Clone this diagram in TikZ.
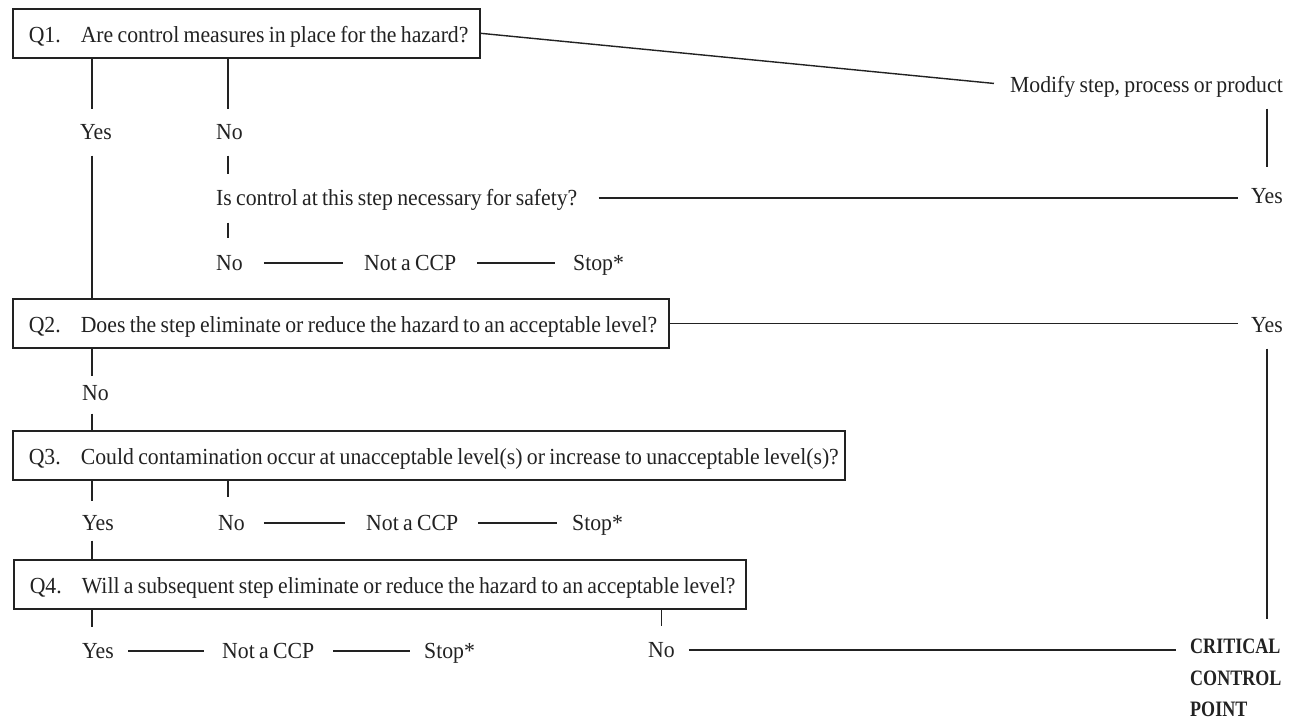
\documentclass[tikz,border=0pt]{standalone}
\usepackage{fontspec}
\setmainfont{Liberation Serif}[FakeStretch=0.945, WordSpace=0.8]
\newfontfamily\ccpfont{Liberation Serif Bold}[FakeStretch=0.82]
\usetikzlibrary{calc}
\definecolor{ink}{HTML}{222222}
\begin{document}
\begin{tikzpicture}[x=1pt,y=-1pt,
  every node/.style={font=\fontsize{23}{27}\selectfont, text=ink},
  lbl/.style={inner sep=0pt, text height=15pt, text depth=0pt},
  qbox/.style={draw=ink, line width=1.6pt, anchor=north west, inner xsep=16pt, inner ysep=0pt,
               minimum height=49pt, text height=18pt, text depth=0pt},
  conn/.style={draw=ink, line width=1.2pt},
]
\useasboundingbox (0,0) rectangle (1300,722);
\fill[white] (0,0) rectangle (1300,722);

\coordinate (spine) at (92,0);
\coordinate (nocol) at (228,0);

% boxes
\node[qbox] (q1) at (12,8)
  {\makebox[435pt][l]{\makebox[52pt][l]{Q1.}Are control measures in place for the hazard?}};
\node[qbox] (q2) at (12,298)
  {\makebox[624pt][l]{\makebox[52pt][l]{Q2.}Does the step eliminate or reduce the hazard to an acceptable level?}};
\node[qbox] (q3) at (12,430)
  {\makebox[800pt][l]{\makebox[52pt][l]{Q3.}Could contamination occur at unacceptable level(s) or increase to unacceptable level(s)?}};
\node[qbox] (q4) at (13,559)
  {\makebox[700pt][l]{\makebox[52pt][l]{Q4.}Will a subsequent step eliminate or reduce the hazard to an acceptable level?}};

% labels
\node[lbl, anchor=west] (yes1) at (80,132) {Yes};
\node[lbl, anchor=west] (no1) at (216,132) {No};
\node[lbl, anchor=west] (safety) at (216,198) {Is control at this step necessary for safety?};
\node[lbl, anchor=west] (no2) at (216,263) {No};
\node[lbl, anchor=west] (ncp1) at (364,263) {Not a CCP};
\node[lbl, anchor=west] (stop1) at (573,263) {Stop*};
\node[lbl, anchor=east] (modify) at (1283,85) {Modify step, process or product};
\node[lbl, anchor=east] (yesr1) at (1283,196) {Yes};
\node[lbl, anchor=east] (yesr2) at (1283,325) {Yes};
\node[lbl, anchor=west] (no3) at (82,393) {No};
\node[lbl, anchor=west] (yes3) at (82,523) {Yes};
\node[lbl, anchor=west] (no4) at (218,523) {No};
\node[lbl, anchor=west] (ncp2) at (366,523) {Not a CCP};
\node[lbl, anchor=west] (stop2) at (572,523) {Stop*};
\node[lbl, anchor=west] (yes4) at (82,651) {Yes};
\node[lbl, anchor=west] (ncp3) at (222,651) {Not a CCP};
\node[lbl, anchor=west] (stop3) at (424,651) {Stop*};
\node[lbl, anchor=west] (no5) at (648,650) {No};
\node[anchor=west, inner sep=0pt, align=left, font=\ccpfont\fontsize{22}{31.5}\selectfont]
  (ccp) at (1190,678) {CRITICAL\\CONTROL\\POINT};

% connectors
\draw[conn, shorten >=15pt] (q1.south -| spine) -- (yes1.north -| spine);
\draw[conn, shorten <=16pt] (yes1.south -| spine) -- (q2.north -| spine);
\draw[conn, shorten >=15pt] (q1.south -| nocol) -- (no1.north -| nocol);
\draw[conn, shorten <=16pt, shorten >=16pt] (no1.south -| nocol) -- (safety.north -| nocol);
\draw[conn, shorten <=17pt, shorten >=17pt] (safety.south -| nocol) -- (no2.north -| nocol);
\draw[conn, shorten <=21pt, shorten >=21pt] (no2.east) -- (no2.east -| ncp1.west);
\draw[conn, shorten <=21pt, shorten >=18pt] (ncp1.east) -- (ncp1.east -| stop1.west);
\draw[conn, shorten <=21pt, shorten >=13pt] (safety.east) -- (safety.east -| yesr1.west);
\draw[conn, line width=1.4pt, shorten >=16pt] (q1.east) -- (modify.west);
\draw[conn, shorten <=16pt, shorten >=21pt] (modify.south -| yesr1.north) -- (yesr1.north);
\draw[conn, shorten >=13pt] (q2.east) -- (q2.east -| yesr2.west);
\draw[conn, shorten <=16pt, shorten >=20pt] (yesr2.south) -- (yesr2.south |- ccp.north);
\draw[conn, shorten >=9pt] (q2.south -| spine) -- (no3.north -| spine);
\draw[conn, shorten <=13pt] (no3.south -| spine) -- (q3.north -| spine);
\draw[conn, shorten >=14pt] (q3.south -| spine) -- (yes3.north -| spine);
\draw[conn, shorten >=18pt] (q3.south -| nocol) -- (no4.north -| nocol);
\draw[conn, shorten <=19pt, shorten >=21pt] (no4.east) -- (no4.east -| ncp2.west);
\draw[conn, shorten <=20pt, shorten >=15pt] (ncp2.east) -- (ncp2.east -| stop2.west);
\draw[conn, shorten <=10pt] (yes3.south -| spine) -- (q4.north -| spine);
\draw[conn, shorten >=16pt] (q4.south -| spine) -- (yes4.north -| spine);
\draw[conn, shorten <=14pt, shorten >=18pt] (yes4.east) -- (yes4.east -| ncp3.west);
\draw[conn, shorten <=19pt, shorten >=14pt] (ncp3.east) -- (ncp3.east -| stop3.west);
\draw[conn, shorten >=16pt] (q4.south -| no5.north) -- (no5.north);
\draw[conn, shorten <=14pt, shorten >=14pt] (no5.east) -- (no5.east -| ccp.west);
\end{tikzpicture}
\end{document}
